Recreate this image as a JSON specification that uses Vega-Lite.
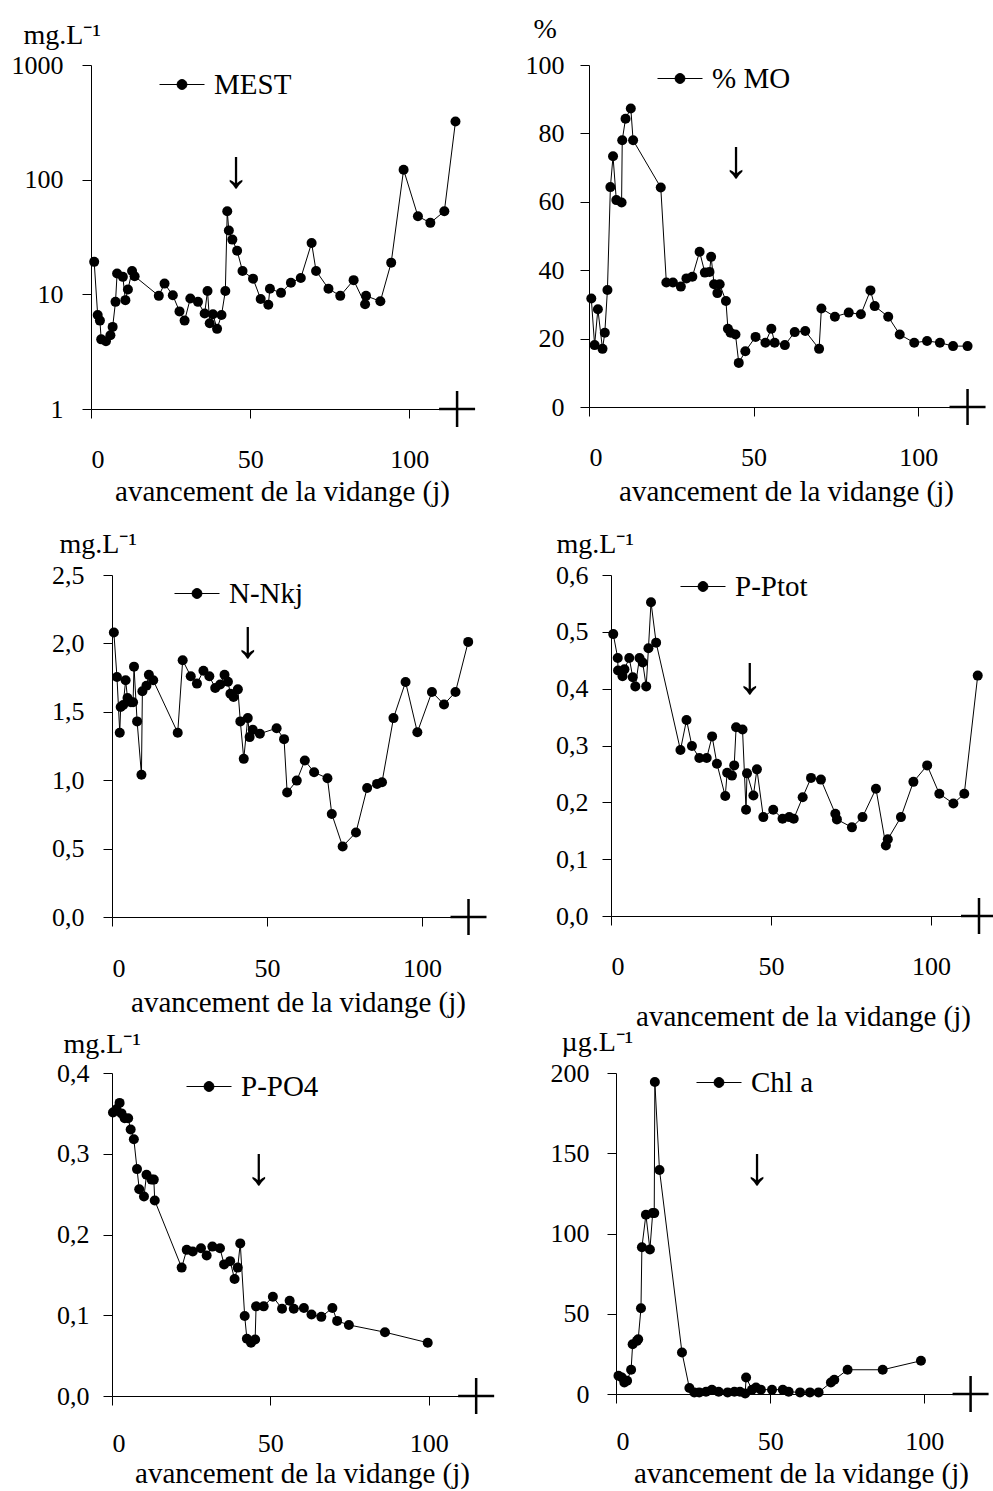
{
  "$schema": "https://vega.github.io/schema/vega-lite/v6.json",
  "background": "white",
  "padding": {"left": 6, "top": 15, "right": 2, "bottom": 2},
  "config": {
    "font": "Liberation Serif",
    "view": {"stroke": null},
    "axis": {"domainColor": "black", "tickColor": "black", "labelColor": "black", "titleColor": "black", "labelFont": "Liberation Serif", "titleFont": "Liberation Serif", "labelFontSize": 26, "titleFontSize": 28, "titleFontWeight": "normal", "tickSize": 9, "grid": false, "domainWidth": 1, "tickWidth": 1},
    "legend": {"orient": "none", "title": null, "padding": 0, "labelFont": "Liberation Serif", "labelFontSize": 29, "labelColor": "black", "labelOffset": 9, "symbolSize": 2025, "symbolType": "M-1,0H1M-0.22,0A0.22,0.22,0,1,0,0.22,0A0.22,0.22,0,1,0,-0.22,0Z", "symbolStrokeWidth": 1, "symbolFillColor": "black", "symbolStrokeColor": "black"}
  },
  "datasets": {
    "mest": [{"x":1.0,"v":19.2},{"x":2.1,"v":6.6},{"x":2.8,"v":5.9},{"x":3.2,"v":4.05},{"x":4.7,"v":3.9},{"x":6.1,"v":4.4},{"x":6.8,"v":5.2},{"x":7.7,"v":8.6},{"x":8.2,"v":15.2},{"x":10.0,"v":14.2},{"x":10.8,"v":8.9},{"x":11.6,"v":11.0},{"x":12.9,"v":16.0},{"x":13.7,"v":14.4},{"x":21.3,"v":9.7},{"x":23.1,"v":12.4},{"x":25.7,"v":9.8},{"x":27.8,"v":7.1},{"x":29.4,"v":5.9},{"x":31.2,"v":9.2},{"x":33.6,"v":8.6},{"x":35.7,"v":6.8},{"x":36.6,"v":10.7},{"x":37.3,"v":5.6},{"x":38.3,"v":6.7},{"x":39.6,"v":5.0},{"x":41.0,"v":6.6},{"x":42.2,"v":10.7},{"x":42.8,"v":53},{"x":43.3,"v":36},{"x":44.4,"v":30},{"x":45.9,"v":24},{"x":47.6,"v":16},{"x":50.9,"v":13.7},{"x":53.3,"v":9.1},{"x":55.7,"v":8.1},{"x":56.2,"v":11.2},{"x":59.7,"v":10.3},{"x":62.8,"v":12.6},{"x":65.9,"v":13.9},{"x":69.3,"v":28},{"x":70.7,"v":16},{"x":74.6,"v":11.2},{"x":78.3,"v":9.7},{"x":82.5,"v":13.3},{"x":86.1,"v":8.2},{"x":86.4,"v":9.7},{"x":90.9,"v":8.7},{"x":94.3,"v":18.9},{"x":98.2,"v":122},{"x":102.7,"v":48},{"x":106.6,"v":42},{"x":111.0,"v":53},{"x":114.5,"v":322}],
    "mo": [{"x":0.7,"v":31.7},{"x":1.7,"v":18.1},{"x":2.7,"v":28.6},{"x":4.1,"v":17.0},{"x":4.8,"v":21.7},{"x":5.6,"v":34.2},{"x":6.5,"v":64.3},{"x":7.3,"v":73.3},{"x":8.3,"v":60.5},{"x":9.9,"v":59.8},{"x":10.1,"v":78.0},{"x":11.1,"v":84.3},{"x":12.7,"v":87.3},{"x":13.4,"v":78.0},{"x":21.8,"v":64.2},{"x":23.5,"v":36.4},{"x":25.5,"v":36.4},{"x":27.9,"v":35.2},{"x":29.6,"v":37.6},{"x":31.4,"v":38.1},{"x":33.6,"v":45.4},{"x":35.2,"v":39.3},{"x":36.6,"v":39.5},{"x":37.1,"v":43.9},{"x":38.0,"v":35.9},{"x":39.0,"v":33.3},{"x":39.7,"v":35.9},{"x":41.6,"v":31.0},{"x":42.2,"v":22.9},{"x":43.0,"v":21.7},{"x":44.5,"v":21.2},{"x":45.5,"v":12.9},{"x":47.5,"v":16.3},{"x":50.6,"v":20.5},{"x":53.6,"v":18.8},{"x":55.4,"v":22.9},{"x":56.4,"v":18.8},{"x":59.5,"v":18.1},{"x":62.5,"v":21.9},{"x":65.7,"v":22.2},{"x":69.9,"v":17.0},{"x":70.6,"v":28.8},{"x":74.7,"v":26.4},{"x":78.9,"v":27.6},{"x":82.6,"v":27.1},{"x":85.5,"v":34.1},{"x":86.8,"v":29.5},{"x":90.9,"v":26.4},{"x":94.4,"v":21.2},{"x":98.8,"v":18.8},{"x":102.7,"v":19.3},{"x":106.6,"v":18.8},{"x":110.6,"v":17.8},{"x":115.0,"v":17.8}],
    "nkj": [{"x":0.6,"v":2.08},{"x":1.6,"v":1.755},{"x":2.5,"v":1.347},{"x":2.8,"v":1.535},{"x":3.6,"v":1.55},{"x":4.4,"v":1.73},{"x":5.0,"v":1.6},{"x":6.1,"v":1.57},{"x":6.8,"v":1.57},{"x":7.1,"v":1.83},{"x":8.1,"v":1.43},{"x":9.5,"v":1.04},{"x":9.8,"v":1.65},{"x":11.1,"v":1.69},{"x":11.9,"v":1.77},{"x":13.3,"v":1.73},{"x":21.2,"v":1.347},{"x":22.8,"v":1.877},{"x":25.4,"v":1.76},{"x":27.4,"v":1.706},{"x":29.5,"v":1.8},{"x":31.4,"v":1.76},{"x":33.3,"v":1.674},{"x":34.9,"v":1.7},{"x":36.3,"v":1.77},{"x":37.4,"v":1.72},{"x":38.2,"v":1.632},{"x":39.2,"v":1.608},{"x":40.6,"v":1.664},{"x":41.4,"v":1.43},{"x":42.5,"v":1.156},{"x":43.8,"v":1.454},{"x":44.4,"v":1.315},{"x":45.4,"v":1.369},{"x":47.7,"v":1.34},{"x":53.1,"v":1.38},{"x":55.5,"v":1.3},{"x":56.5,"v":0.91},{"x":59.6,"v":0.997},{"x":62.2,"v":1.144},{"x":65.2,"v":1.058},{"x":69.5,"v":1.014},{"x":70.9,"v":0.753},{"x":74.4,"v":0.516},{"x":78.7,"v":0.618},{"x":82.3,"v":0.943},{"x":85.5,"v":0.973},{"x":87.1,"v":0.985},{"x":90.8,"v":1.454},{"x":94.7,"v":1.718},{"x":98.5,"v":1.351},{"x":103.2,"v":1.645},{"x":107.1,"v":1.554},{"x":110.8,"v":1.645},{"x":114.9,"v":2.011}],
    "ptot": [{"x":0.7,"v":0.496},{"x":2.1,"v":0.454},{"x":2.2,"v":0.432},{"x":3.6,"v":0.422},{"x":4.2,"v":0.434},{"x":5.7,"v":0.454},{"x":6.8,"v":0.42},{"x":7.6,"v":0.404},{"x":8.9,"v":0.454},{"x":9.9,"v":0.446},{"x":11.0,"v":0.404},{"x":11.7,"v":0.471},{"x":12.5,"v":0.552},{"x":14.1,"v":0.481},{"x":21.7,"v":0.292},{"x":23.6,"v":0.345},{"x":25.3,"v":0.299},{"x":27.6,"v":0.278},{"x":29.9,"v":0.278},{"x":31.6,"v":0.316},{"x":33.1,"v":0.268},{"x":35.7,"v":0.211},{"x":36.3,"v":0.252},{"x":37.8,"v":0.247},{"x":38.5,"v":0.265},{"x":39.1,"v":0.332},{"x":41.1,"v":0.328},{"x":42.2,"v":0.187},{"x":42.5,"v":0.251},{"x":44.5,"v":0.212},{"x":45.6,"v":0.258},{"x":47.6,"v":0.174},{"x":50.7,"v":0.187},{"x":53.6,"v":0.171},{"x":55.7,"v":0.174},{"x":57.1,"v":0.171},{"x":59.9,"v":0.209},{"x":62.5,"v":0.243},{"x":65.6,"v":0.24},{"x":70.1,"v":0.18},{"x":70.6,"v":0.17},{"x":75.3,"v":0.156},{"x":78.6,"v":0.174},{"x":82.8,"v":0.224},{"x":85.9,"v":0.124},{"x":86.5,"v":0.135},{"x":90.6,"v":0.174},{"x":94.5,"v":0.236},{"x":98.8,"v":0.265},{"x":102.6,"v":0.215},{"x":107.0,"v":0.198},{"x":110.4,"v":0.215},{"x":114.6,"v":0.423}],
    "po4": [{"x":0.3,"v":0.351},{"x":1.4,"v":0.355},{"x":2.4,"v":0.363},{"x":3.0,"v":0.35},{"x":4.0,"v":0.344},{"x":5.1,"v":0.344},{"x":5.9,"v":0.33},{"x":6.9,"v":0.318},{"x":7.9,"v":0.281},{"x":8.6,"v":0.256},{"x":10.1,"v":0.247},{"x":10.9,"v":0.274},{"x":12.5,"v":0.268},{"x":13.2,"v":0.268},{"x":13.5,"v":0.242},{"x":22.0,"v":0.159},{"x":23.6,"v":0.181},{"x":25.5,"v":0.179},{"x":28.1,"v":0.183},{"x":29.9,"v":0.174},{"x":31.7,"v":0.185},{"x":34.1,"v":0.183},{"x":35.4,"v":0.163},{"x":37.3,"v":0.167},{"x":38.7,"v":0.145},{"x":39.7,"v":0.159},{"x":40.5,"v":0.189},{"x":41.9,"v":0.099},{"x":42.6,"v":0.071},{"x":43.9,"v":0.066},{"x":45.2,"v":0.07},{"x":45.5,"v":0.111},{"x":47.9,"v":0.111},{"x":50.8,"v":0.123},{"x":53.7,"v":0.108},{"x":56.1,"v":0.118},{"x":57.4,"v":0.108},{"x":60.6,"v":0.109},{"x":63.0,"v":0.101},{"x":66.1,"v":0.098},{"x":69.6,"v":0.109},{"x":71.1,"v":0.093},{"x":74.8,"v":0.088},{"x":86.2,"v":0.079},{"x":99.7,"v":0.066}],
    "chl": [{"x":0.8,"v":11.4},{"x":1.9,"v":10.3},{"x":2.7,"v":7.2},{"x":3.6,"v":8.3},{"x":4.9,"v":15.1},{"x":5.4,"v":31.0},{"x":6.8,"v":33.1},{"x":7.2,"v":34.1},{"x":8.1,"v":53.4},{"x":8.4,"v":91.4},{"x":9.7,"v":111.7},{"x":11.0,"v":90.0},{"x":11.9,"v":112.7},{"x":12.4,"v":112.7},{"x":12.6,"v":194.4},{"x":14.1,"v":139.6},{"x":21.4,"v":25.9},{"x":23.8,"v":3.7},{"x":25.4,"v":1.0},{"x":27.0,"v":1.0},{"x":29.2,"v":1.4},{"x":31.1,"v":2.7},{"x":33.3,"v":1.4},{"x":36.2,"v":1.0},{"x":38.4,"v":1.4},{"x":40.2,"v":1.4},{"x":41.9,"v":0.3},{"x":42.2,"v":10.3},{"x":44.1,"v":2.7},{"x":45.4,"v":4.1},{"x":47.0,"v":2.7},{"x":50.6,"v":2.7},{"x":54.1,"v":2.7},{"x":56.0,"v":1.4},{"x":59.7,"v":1.0},{"x":62.9,"v":1.0},{"x":65.7,"v":1.0},{"x":69.7,"v":7.2},{"x":70.8,"v":8.9},{"x":75.1,"v":15.1},{"x":86.5,"v":15.1},{"x":98.9,"v":20.7}]
  },
  "resolve": {"scale": {"color": "independent"}, "legend": {"color": "independent"}},
  "columns": 1,
  "align": "none",
  "spacing": 24,
  "concat": [
    {
      "hconcat": [
        {
          "width": 382, "height": 344,
          "encoding": {
            "x": {"field": "x", "type": "quantitative", "scale": {"domain": [0, 120], "nice": false, "zero": false}, "axis": {"values": [0, 50, 100], "format": "d", "labelPadding": 28, "title": "avancement de la vidange (j)", "titleFontSize": 29, "titleX": 191, "titleY": 91, "titleAlign": "center", "titleBaseline": "alphabetic"}},
            "y": {"field": "v", "type": "quantitative", "scale": {"type": "log", "domain": [1, 1000], "nice": false}, "axis": {"values": [1, 10, 100, 1000], "format": "d", "labelPadding": 19, "minExtent": 85, "title": "mg.L⁻¹", "titleAngle": 0, "titleAlign": "left", "titleBaseline": "alphabetic", "titleX": -68, "titleY": -22}}
          },
          "layer": [
            {"data": {"name": "mest"}, "mark": {"type": "line", "color": "black", "strokeWidth": 1}},
            {"data": {"name": "mest"}, "mark": {"type": "point", "filled": true, "size": 100, "opacity": 1}, "encoding": {"color": {"datum": "MEST", "type": "nominal", "scale": {"range": ["black"]}, "legend": {"legendX": 68, "legendY": -3.5, "encode": {"symbols": {"update": {"fill": {"value": "black"}, "stroke": {"value": "black"}, "strokeWidth": {"value": 1}, "opacity": {"value": 1}}}}}}}},
            {"data": {"values": [{"x": 115, "v": 1}]}, "mark": {"type": "point", "shape": "M-1,0H1M0,-1V1", "size": 1296, "filled": false, "color": "black", "strokeWidth": 2.5, "opacity": 1}},
            {"data": {"values": [{"x": 45.6, "v": 120, "t": "↓"}]}, "mark": {"type": "text", "fontSize": 54, "baseline": "middle", "color": "black"}, "encoding": {"text": {"field": "t"}}}
          ]
        },
        {
          "width": 395, "height": 342,
          "encoding": {
            "x": {"field": "x", "type": "quantitative", "scale": {"domain": [0, 120], "nice": false, "zero": false}, "axis": {"values": [0, 50, 100], "format": "d", "labelPadding": 28, "title": "avancement de la vidange (j)", "titleFontSize": 29, "titleX": 197, "titleY": 93, "titleAlign": "center", "titleBaseline": "alphabetic"}},
            "y": {"field": "v", "type": "quantitative", "scale": {"domain": [0, 100], "nice": false}, "axis": {"values": [0, 20, 40, 60, 80, 100], "format": "d", "labelPadding": 16, "minExtent": 108, "title": "%", "titleAngle": 0, "titleAlign": "left", "titleBaseline": "alphabetic", "titleX": -56, "titleY": -28}}
          },
          "layer": [
            {"data": {"name": "mo"}, "mark": {"type": "line", "color": "black", "strokeWidth": 1}},
            {"data": {"name": "mo"}, "mark": {"type": "point", "filled": true, "size": 100, "opacity": 1}, "encoding": {"color": {"datum": "% MO", "type": "nominal", "scale": {"range": ["black"]}, "legend": {"legendX": 68, "legendY": -9.5, "encode": {"symbols": {"update": {"fill": {"value": "black"}, "stroke": {"value": "black"}, "strokeWidth": {"value": 1}, "opacity": {"value": 1}}}}}}}},
            {"data": {"values": [{"x": 115, "v": 0}]}, "mark": {"type": "point", "shape": "M-1,0H1M0,-1V1", "size": 1296, "filled": false, "color": "black", "strokeWidth": 2.5, "opacity": 1}},
            {"data": {"values": [{"x": 44.7, "v": 71.8, "t": "↓"}]}, "mark": {"type": "text", "fontSize": 54, "baseline": "middle", "color": "black"}, "encoding": {"text": {"field": "t"}}}
          ]
        }
      ],
      "spacing": 0,
      "resolve": {"scale": {"color": "independent"}, "legend": {"color": "independent"}}
    },
    {
      "columns": 1,
      "align": "none",
      "spacing": -3,
      "concat": [
        {
          "hconcat": [
            {
              "width": 393, "height": 342,
              "encoding": {
                "x": {"field": "x", "type": "quantitative", "scale": {"domain": [0, 120], "range": [21, 393], "nice": false, "zero": false}, "axis": {"values": [0, 50, 100], "format": "d", "labelPadding": 29, "title": "avancement de la vidange (j)", "titleFontSize": 29, "titleX": 207, "titleY": 94, "titleAlign": "center", "titleBaseline": "alphabetic"}},
                "y": {"field": "v", "type": "quantitative", "scale": {"domain": [0, 2.5], "nice": false}, "axis": {"values": [0, 0.5, 1, 1.5, 2, 2.5], "labelExpr": "replace(format(datum.value, '.1f'), '.', ',')", "labelPadding": 19, "offset": -21, "title": "mg.L⁻¹", "titleAngle": 0, "titleAlign": "left", "titleBaseline": "alphabetic", "titleX": -53, "titleY": -23}}
              },
              "layer": [
                {"data": {"name": "nkj"}, "mark": {"type": "line", "color": "black", "strokeWidth": 1}},
                {"data": {"name": "nkj"}, "mark": {"type": "point", "filled": true, "size": 100, "opacity": 1}, "encoding": {"color": {"datum": "N-Nkj", "type": "nominal", "scale": {"range": ["black"]}, "legend": {"legendX": 83, "legendY": -4.5, "encode": {"symbols": {"update": {"fill": {"value": "black"}, "stroke": {"value": "black"}, "strokeWidth": {"value": 1}, "opacity": {"value": 1}}}}}}}},
                {"data": {"values": [{"x": 115, "v": 0}]}, "mark": {"type": "point", "shape": "M-1,0H1M0,-1V1", "size": 1296, "filled": false, "color": "black", "strokeWidth": 2.5, "opacity": 1}},
                {"data": {"values": [{"x": 43.9, "v": 2.02, "t": "↓"}]}, "mark": {"type": "text", "fontSize": 54, "baseline": "middle", "color": "black"}, "encoding": {"text": {"field": "t"}}}
              ]
            },
            {
              "width": 384, "height": 341,
              "encoding": {
                "x": {"field": "x", "type": "quantitative", "scale": {"domain": [0, 120], "nice": false, "zero": false}, "axis": {"values": [0, 50, 100], "format": "d", "labelPadding": 28, "title": "avancement de la vidange (j)", "titleFontSize": 29, "titleX": 192, "titleY": 109, "titleAlign": "center", "titleBaseline": "alphabetic"}},
                "y": {"field": "v", "type": "quantitative", "scale": {"domain": [0, 0.6], "nice": false}, "axis": {"values": [0, 0.1, 0.2, 0.3, 0.4, 0.5, 0.6], "labelExpr": "replace(format(datum.value, '.1f'), '.', ',')", "labelPadding": 14, "minExtent": 119, "title": "mg.L⁻¹", "titleAngle": 0, "titleAlign": "left", "titleBaseline": "alphabetic", "titleX": -55, "titleY": -23}}
              },
              "layer": [
                {"data": {"name": "ptot"}, "mark": {"type": "line", "color": "black", "strokeWidth": 1}},
                {"data": {"name": "ptot"}, "mark": {"type": "point", "filled": true, "size": 100, "opacity": 1}, "encoding": {"color": {"datum": "P-Ptot", "type": "nominal", "scale": {"range": ["black"]}, "legend": {"legendX": 69, "legendY": -11.5, "encode": {"symbols": {"update": {"fill": {"value": "black"}, "stroke": {"value": "black"}, "strokeWidth": {"value": 1}, "opacity": {"value": 1}}}}}}}},
                {"data": {"values": [{"x": 115, "v": 0}]}, "mark": {"type": "point", "shape": "M-1,0H1M0,-1V1", "size": 1296, "filled": false, "color": "black", "strokeWidth": 2.5, "opacity": 1}},
                {"data": {"values": [{"x": 43.4, "v": 0.421, "t": "↓"}]}, "mark": {"type": "text", "fontSize": 54, "baseline": "middle", "color": "black"}, "encoding": {"text": {"field": "t"}}}
              ]
            }
          ],
          "spacing": 0,
          "resolve": {"scale": {"color": "independent"}, "legend": {"color": "independent"}}
        },
        {
          "hconcat": [
            {
              "width": 401, "height": 323,
              "encoding": {
                "x": {"field": "x", "type": "quantitative", "scale": {"domain": [0, 120], "range": [21, 401], "nice": false, "zero": false}, "axis": {"values": [0, 50, 100], "format": "d", "labelPadding": 25, "title": "avancement de la vidange (j)", "titleFontSize": 29, "titleX": 211, "titleY": 86, "titleAlign": "center", "titleBaseline": "alphabetic"}},
                "y": {"field": "v", "type": "quantitative", "scale": {"domain": [0, 0.4], "nice": false}, "axis": {"values": [0, 0.1, 0.2, 0.3, 0.4], "labelExpr": "replace(format(datum.value, '.1f'), '.', ',')", "labelPadding": 14, "offset": -21, "title": "mg.L⁻¹", "titleAngle": 0, "titleAlign": "left", "titleBaseline": "alphabetic", "titleX": -49, "titleY": -21}}
              },
              "layer": [
                {"data": {"name": "po4"}, "mark": {"type": "line", "color": "black", "strokeWidth": 1}},
                {"data": {"name": "po4"}, "mark": {"type": "point", "filled": true, "size": 100, "opacity": 1}, "encoding": {"color": {"datum": "P-PO4", "type": "nominal", "scale": {"range": ["black"]}, "legend": {"legendX": 95, "legendY": -9.5, "encode": {"symbols": {"update": {"fill": {"value": "black"}, "stroke": {"value": "black"}, "strokeWidth": {"value": 1}, "opacity": {"value": 1}}}}}}}},
                {"data": {"values": [{"x": 115, "v": 0}]}, "mark": {"type": "point", "shape": "M-1,0H1M0,-1V1", "size": 1296, "filled": false, "color": "black", "strokeWidth": 2.5, "opacity": 1}},
                {"data": {"values": [{"x": 46.4, "v": 0.282, "t": "↓"}]}, "mark": {"type": "text", "fontSize": 54, "baseline": "middle", "color": "black"}, "encoding": {"text": {"field": "t"}}}
              ]
            },
            {
              "width": 370, "height": 321,
              "encoding": {
                "x": {"field": "x", "type": "quantitative", "scale": {"domain": [0, 120], "nice": false, "zero": false}, "axis": {"values": [0, 50, 100], "format": "d", "labelPadding": 25, "title": "avancement de la vidange (j)", "titleFontSize": 29, "titleX": 185, "titleY": 88, "titleAlign": "center", "titleBaseline": "alphabetic"}},
                "y": {"field": "v", "type": "quantitative", "scale": {"domain": [0, 200], "nice": false}, "axis": {"values": [0, 50, 100, 150, 200], "format": "d", "labelPadding": 18, "minExtent": 116, "title": "µg.L⁻¹", "titleAngle": 0, "titleAlign": "left", "titleBaseline": "alphabetic", "titleX": -55, "titleY": -23}}
              },
              "layer": [
                {"data": {"name": "chl"}, "mark": {"type": "line", "color": "black", "strokeWidth": 1}},
                {"data": {"name": "chl"}, "mark": {"type": "point", "filled": true, "size": 100, "opacity": 1}, "encoding": {"color": {"datum": "Chl a", "type": "nominal", "scale": {"range": ["black"]}, "legend": {"legendX": 80, "legendY": -13.5, "encode": {"symbols": {"update": {"fill": {"value": "black"}, "stroke": {"value": "black"}, "strokeWidth": {"value": 1}, "opacity": {"value": 1}}}}}}}},
                {"data": {"values": [{"x": 115, "v": 0}]}, "mark": {"type": "point", "shape": "M-1,0H1M0,-1V1", "size": 1296, "filled": false, "color": "black", "strokeWidth": 2.5, "opacity": 1}},
                {"data": {"values": [{"x": 45.8, "v": 141, "t": "↓"}]}, "mark": {"type": "text", "fontSize": 54, "baseline": "middle", "color": "black"}, "encoding": {"text": {"field": "t"}}}
              ]
            }
          ],
          "spacing": 0,
          "resolve": {"scale": {"color": "independent"}, "legend": {"color": "independent"}}
        }
      ],
      "resolve": {"scale": {"color": "independent"}, "legend": {"color": "independent"}}
    }
  ]
}
